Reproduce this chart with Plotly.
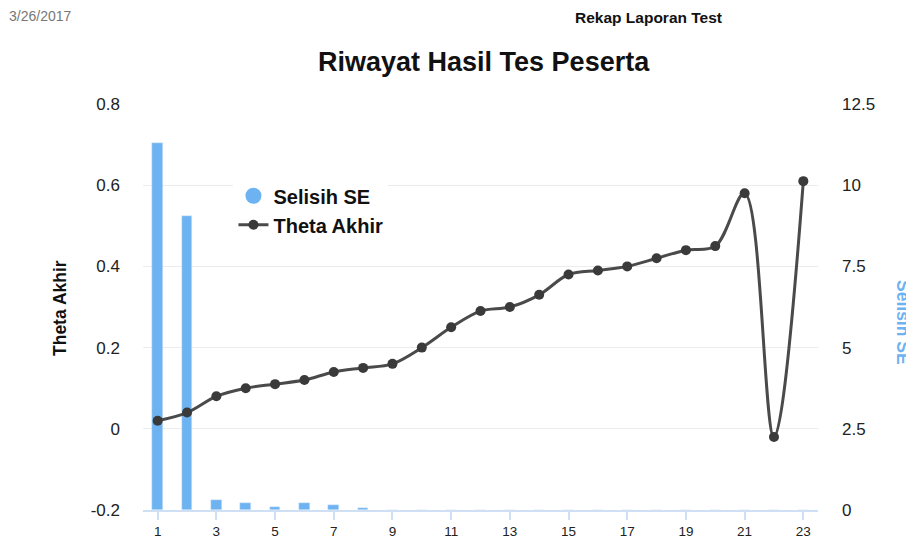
import plotly.graph_objects as go

tes_ke = list(range(1, 24))
theta_akhir = [0.02, 0.04, 0.08, 0.10, 0.11, 0.12, 0.14, 0.15, 0.16, 0.20, 0.25, 0.29,
               0.30, 0.33, 0.38, 0.39, 0.40, 0.42, 0.44, 0.45, 0.58, -0.02, 0.61]
selisih_se = [11.3, 9.05, 0.3, 0.22, 0.08, 0.22, 0.15, 0.06, 0, 0, 0, 0,
              0, 0, 0, 0, 0, 0, 0, 0, 0, 0, 0]
left_ticks = [-0.2, 0, 0.2, 0.4, 0.6, 0.8]
left_labels = ["-0.2", "0", "0.2", "0.4", "0.6", "0.8"]
right_ticks = [0, 2.5, 5, 7.5, 10, 12.5]
right_labels = ["0", "2.5", "5", "7.5", "10", "12.5"]
x_ticks = list(range(1, 24, 2))

BLUE = "#6db3f2"
DARK = "#3a3a3a"
LINE = "#4a4a4a"
FONT = "Liberation Sans, Arial, sans-serif"

# page body has an 8px margin, so figure coordinates = screen - 8
OFF = 8
W, H = 914 - OFF, 542 - OFF
L, R, T, B = 143 - OFF, W - (818 - OFF), 104 - OFF, H - (510 - OFF)

fig = go.Figure()
fig.add_trace(go.Bar(x=tes_ke, y=selisih_se, yaxis="y", marker_color=BLUE,
                     width=0.36, showlegend=False, name="Selisih SE"))
fig.add_trace(go.Scatter(x=tes_ke, y=theta_akhir, yaxis="y2", mode="lines+markers",
                         line=dict(color=LINE, width=3, shape="spline", smoothing=1),
                         marker=dict(color=DARK, size=10), showlegend=False, name="Theta Akhir"))
fig.add_trace(go.Scatter(x=[None], y=[None], yaxis="y2", mode="markers", name="Selisih SE",
                         marker=dict(color=BLUE, size=16, symbol="circle")))
fig.add_trace(go.Scatter(x=[None], y=[None], yaxis="y2", mode="lines+markers", name="Theta Akhir",
                         line=dict(color=LINE, width=3), marker=dict(color=DARK, size=10)))

fig.update_layout(
    width=W, height=H,
    margin=dict(l=L, r=R, t=T, b=B, autoexpand=False),
    paper_bgcolor="white", plot_bgcolor="white",
    font=dict(family=FONT, color="#222"),
    bargap=0,
    xaxis=dict(range=[0.5, 23.5], tickvals=x_ticks, ticktext=[str(v) for v in x_ticks],
               showgrid=False, showline=True, linecolor="#cfe0f5", linewidth=2,
               ticks="outside", tickcolor="#cfe0f5", ticklen=8, tickwidth=2,
               tickfont=dict(size=13.5, color="#222"), zeroline=False, automargin=False),
    yaxis=dict(range=[0, 12.5], tickvals=right_ticks, ticktext=right_labels,
               side="right", showgrid=True, gridcolor="#ececec", gridwidth=1, zeroline=False,
               tickfont=dict(size=17, color="#222"), ticklabelstandoff=23, automargin=False),
    yaxis2=dict(range=[-0.2, 0.8], tickvals=left_ticks, ticktext=left_labels,
                overlaying="y", side="left", showgrid=False, zeroline=False,
                tickfont=dict(size=17, color="#222"), ticklabelstandoff=22, automargin=False),
    legend=dict(x=0.134, y=0.822, xanchor="left", yanchor="top",
                bgcolor="white", font=dict(size=20, color="#111", family=FONT, weight="bold"),
                tracegroupgap=0, itemwidth=30),
    annotations=[
        dict(text="<b>Riwayat Hasil Tes Peserta</b>", x=484, y=62,
             font=dict(size=27, color="#111")),
        dict(text="<b>Rekap Laporan Test</b>", x=648, y=17,
             font=dict(size=15.5, color="#111")),
        dict(text="3/26/2017", x=40, y=16, font=dict(size=14, color="#777")),
        dict(text="<b>Theta Akhir</b>", x=60, y=308, textangle=-90,
             font=dict(size=17.5, color="#111")),
        dict(text="<b>Selisih SE</b>", x=903, y=322, textangle=90,
             font=dict(size=17.5, color=BLUE)),
    ],
)

# convert screen-pixel annotation positions to paper coordinates
pw = W - L - R
ph = H - T - B
for a in fig.layout.annotations:
    a.showarrow = False
    a.xref = "paper"
    a.yref = "paper"
    a.x = (a.x - OFF - L) / pw
    a.y = (H - B - (a.y - OFF)) / ph
    a.xanchor = "center"
    a.yanchor = "middle"

fig.write_html("out.html")
